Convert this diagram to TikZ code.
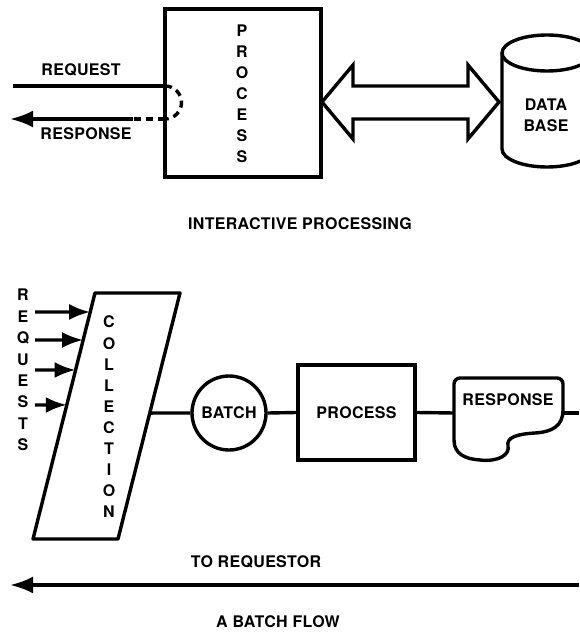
\documentclass[tikz,border=0pt]{standalone}
\usepackage{fontspec}
\setmainfont{TeX Gyre Heros}[LetterSpace=2]
\usetikzlibrary{arrows.meta,calc}
\begin{document}
\begin{tikzpicture}[x=1pt,y=-1pt,
  lw/.style={line width=3.4pt},
  lbl/.style={font=\fontsize{16}{19}\selectfont\bfseries, inner sep=0pt},
  vert/.style={font=\fontsize{16}{21}\selectfont\bfseries, align=center, inner sep=0pt},
  boxed/.style={draw, line width=3.4pt, rectangle},
  bigarrow/.style={-{Latex[length=23pt,width=17pt]}},
  reqarrow/.style={-{Latex[length=21pt,width=16pt]}},
  dashline/.style={dash pattern=on 7pt off 5pt},
  ]
\useasboundingbox (0,0) rectangle (579,644);

% ---------- interactive processing ----------
\node[boxed, minimum width=156pt, minimum height=168pt] (proc1) at (243,93) {};
\node[vert] (proc1text) at (242,94) {P\\R\\O\\C\\E\\S\\S};

\coordinate (reqstart) at (13,86);
\coordinate (reqend) at (165,86);
\coordinate (resstart) at (165,119);
\coordinate (resdash) at (133,119);
\coordinate (resend) at (10,119);
\draw[lw] (reqstart) -- (reqend);
\draw[lw, dashline] (reqend) .. controls (174.1,86) and (181.5,93.4) .. (181.5,102.5)
  .. controls (181.5,111.6) and (174.1,119) .. (resstart);
\draw[lw, dashline] (resstart) -- (resdash);
\draw[lw, bigarrow] (resdash) -- (resend);
\node[lbl] (reqlabel) at (81,70) {REQUEST};
\node[lbl] (reslabel) at (86,134) {RESPONSE};

% double arrow
\draw[lw, line join=miter, fill=white] (322,102) -- (353,65) -- (353,86) -- (468,86) -- (468,65)
  -- (499,102) -- (468,139) -- (468,119) -- (353,119) -- (353,139) -- cycle;

% data base cylinder
\draw[lw] (502,53) -- (502,149) .. controls (502,158.9) and (522.1,167) .. (547,167)
  .. controls (571.9,167) and (592,158.9) .. (592,149) -- (592,53);
\draw[lw] (547,53) ellipse [x radius=45pt, y radius=18pt];
\node[vert] (db) at (546,115.5) {DATA\\BASE};

\node[lbl] (title1) at (300,224) {INTERACTIVE PROCESSING};

% ---------- batch flow ----------
\coordinate (cTL) at (95,293);
\coordinate (cTR) at (180,293);
\coordinate (cBR) at (118,539);
\coordinate (cBL) at (33,539);
\draw[lw, line join=round] (cTL) -- (cTR) -- (cBR) -- (cBL) -- cycle;
\node[font=\fontsize{16}{21.1}\selectfont\bfseries, align=center, inner sep=0pt] (colltext) at (109,417)
  {C\\O\\L\\L\\E\\C\\T\\I\\O\\N};
\node[font=\fontsize{16}{21.4}\selectfont\bfseries, align=center, inner sep=0pt] (reqtext) at (23,370)
  {R\\E\\Q\\U\\E\\S\\T\\S};

\foreach \yy/\tt [count=\i] in {312/0.0772, 340/0.191, 370/0.313, 405/0.455} {
  \coordinate (rq\i) at ($(cTL)!\tt!(cBL)$);
  \coordinate (rs\i) at (35,\yy);
  \draw[lw, reqarrow] (rs\i) -- (rq\i);
}

\coordinate (collout) at ($(cTR)!0.488!(cBR)$);
\node[draw, circle, lw, minimum size=74pt, lbl] (batch) at (229,413) {BATCH};
\draw[lw] (collout) -- (batch.west);

\node[boxed, minimum width=117pt, minimum height=95pt, lbl] (proc2) at (356.5,412.5) {PROCESS};
\draw[lw] (batch.east) -- (proc2.west);

% response document
\coordinate (respL) at (454,413);
\coordinate (respR) at (563,413);
\draw[lw, line join=round] (454,440) [rounded corners=6pt] -- (454,378) -- (563,378) [sharp corners] -- (563,410)
  .. controls (563,426) and (552,432) .. (535,433)
  .. controls (518,434) and (506,437) .. (508,446)
  .. controls (510,455) and (498,462) .. (480,460)
  .. controls (465,459) and (454,454) .. (454,440);
\node[lbl] (resptext) at (508,400) {RESPONSE};
\draw[lw] (proc2.east) -- (respL);
\coordinate (rightedge) at (579,413);
\draw[lw] (respR) -- (rightedge);

% to requestor
\coordinate (trR) at (579,585);
\coordinate (trL) at (10,585);
\draw[lw, bigarrow] (trR) -- (trL);
\node[lbl] (trlabel) at (256,562) {TO REQUESTOR};

\node[lbl] (title2) at (278,622) {A BATCH FLOW};
\end{tikzpicture}
\end{document}
